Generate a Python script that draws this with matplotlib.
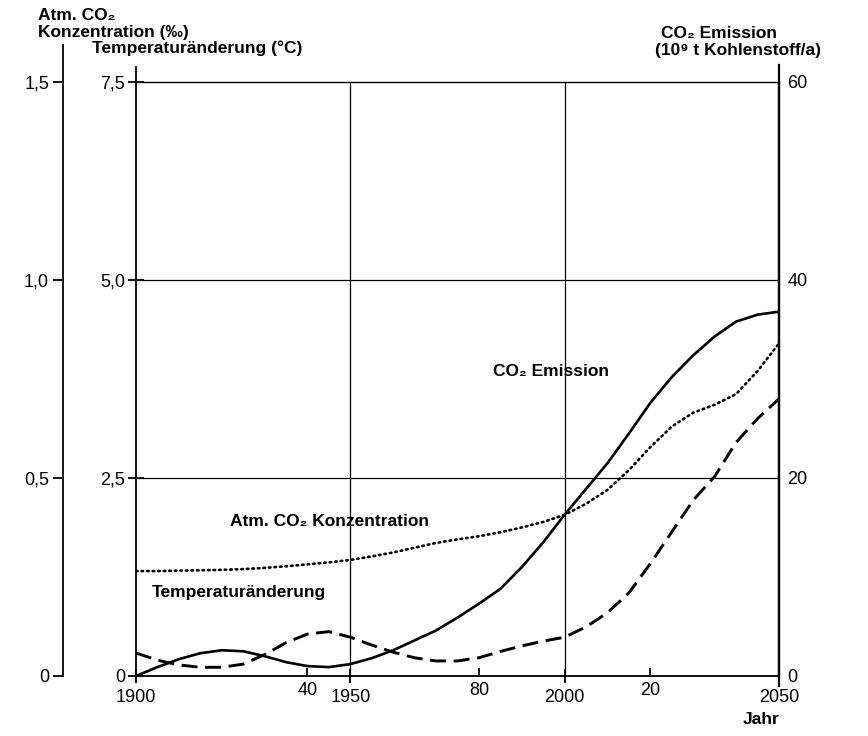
import matplotlib.pyplot as plt

plt.rcParams['font.family'] = ['Liberation Sans', 'DejaVu Sans']

# values
years = list(range(1900, 2051, 5))
emission = [0.0, 0.9, 1.7, 2.3, 2.6, 2.5, 2.0, 1.4, 1.0, 0.9, 1.2, 1.8, 2.6,
            3.6, 4.6, 5.9, 7.3, 8.8, 11.0, 13.5, 16.3, 18.9, 21.5, 24.5,
            27.6, 30.2, 32.4, 34.3, 35.8, 36.5, 36.8]
temperature = [0.29, 0.20, 0.14, 0.11, 0.11, 0.15, 0.27, 0.42, 0.53, 0.56,
               0.49, 0.39, 0.30, 0.23, 0.19, 0.19, 0.23, 0.31, 0.38, 0.44,
               0.49, 0.62, 0.80, 1.05, 1.42, 1.82, 2.22, 2.52, 2.95, 3.25, 3.50]
concentration = [0.265, 0.265, 0.266, 0.267, 0.268, 0.270, 0.273, 0.277,
                 0.282, 0.287, 0.293, 0.302, 0.312, 0.324, 0.336, 0.345,
                 0.353, 0.363, 0.375, 0.389, 0.407, 0.435, 0.470, 0.520,
                 0.578, 0.630, 0.665, 0.685, 0.712, 0.770, 0.840]

temp_ticks = [0, 2.5, 5.0, 7.5]
temp_labels = ['0', '2,5', '5,0', '7,5']
conc_ticks = [0, 0.5, 1.0, 1.5]
conc_labels = ['0', '0,5', '1,0', '1,5']
emis_ticks = [0, 20, 40, 60]
emis_labels = ['0', '20', '40', '60']

W, H = 868, 736
fig = plt.figure(figsize=(W / 100, H / 100), dpi=100)
x0, x1, y0, y1 = 136, 779, 676, 82
ax = fig.add_axes([x0 / W, 1 - y0 / H, (x1 - x0) / W, (y0 - y1) / H])
ax.set_xlim(1900, 2050)
ax.set_ylim(0, 7.5)

ax_r = ax.twinx()
ax_r.set_ylim(0, 60)
ax_c = ax.twinx()
ax_c.set_ylim(0, 1.5)

# spines
for a in (ax, ax_r, ax_c):
    for s in a.spines.values():
        s.set_visible(False)
ax.spines['left'].set_visible(True)
ax.spines['left'].set_linewidth(1.3)
ax.spines['bottom'].set_visible(True)
ax.spines['bottom'].set_linewidth(1.3)
ax.spines['top'].set_visible(True)
ax.spines['top'].set_linewidth(1.0)
ax_r.spines['right'].set_visible(True)
ax_r.spines['right'].set_linewidth(1.6)
ax_c.spines['left'].set_visible(True)
ax_c.spines['left'].set_position(('axes', (63 - x0) / (x1 - x0)))
ax_c.spines['left'].set_linewidth(1.3)
ax_c.yaxis.set_ticks_position('left')
ax_c.yaxis.set_label_position('left')

# little spine extensions beyond the plot box
ext = dict(transform=ax.transAxes, clip_on=False, color='black')
ax.plot([0, 0], [1, 1 + 15 / 594], lw=1.3, **ext)
ax.plot([1, 1], [1 + 17 / 594, -10 / 594], lw=1.6, **ext)
cx = (63 - x0) / (x1 - x0)
ax.plot([cx, cx], [1, 1 + 37 / 594], lw=1.3, **ext)

# grid
for y in (2.5, 5.0):
    ax.axhline(y, color='black', lw=0.9)
for x in (1950, 2000):
    ax.axvline(x, color='black', lw=0.9)

# curves
ax_r.plot(years, emission, color='black', lw=1.9, solid_capstyle='round',
          solid_joinstyle='round')
ax.plot(years, temperature, color='black', lw=2.1, linestyle=(0, (5.5, 2.6)))
ax_c.plot(years, concentration, color='black', lw=1.9,
          linestyle=(0, (0.6, 1.5)), dash_capstyle='round')

# ticks
fs = 13
ax.set_yticks(temp_ticks, labels=temp_labels)
ax.tick_params(axis='y', direction='inout', length=12, width=1.3,
               labelsize=fs, pad=2)
ax_c.set_yticks(conc_ticks, labels=conc_labels)
ax_c.tick_params(axis='y', direction='out', length=7, width=1.3,
                 labelsize=fs, pad=3)
ax_r.set_yticks(emis_ticks, labels=emis_labels)
ax_r.tick_params(axis='y', length=0, labelsize=fs, pad=6)

ax.set_xticks([1900, 1950, 2000, 2050],
              labels=['1900', '1950', '2000', '2050'])
ax.set_xticks([1940, 1980, 2020], labels=['40', '80', '20'], minor=True)
ax.tick_params(axis='x', which='major', direction='inout', length=10,
               width=1.3, labelsize=fs, pad=4)
ax.tick_params(axis='x', which='minor', direction='in', length=6,
               width=1.3, labelsize=fs, pad=4)

# texts
bold = dict(fontweight='bold', fontsize=12.5, va='center')


def ftext(px, py, s, **kw):
    fig.text(px / W, 1 - py / H, s, **kw)


ftext(38, 16, 'Atm. CO₂', ha='left', **bold)
ftext(38, 32, 'Konzentration (‰)', ha='left', **bold)
ftext(92, 48, 'Temperaturänderung (°C)', ha='left', **bold)
ftext(661, 34, 'CO₂ Emission', ha='left', **bold)
ftext(655, 51, '(10⁹ t Kohlenstoff/a)', ha='left', **bold)
ftext(779, 720, 'Jahr', ha='right', **bold)

ftext(493, 372, 'CO₂ Emission', ha='left', **bold)
ftext(230, 521, 'Atm. CO₂ Konzentration', ha='left', **bold)
ftext(152, 593, 'Temperaturänderung', ha='left', **bold)

fig.savefig('out.png', dpi=100)
